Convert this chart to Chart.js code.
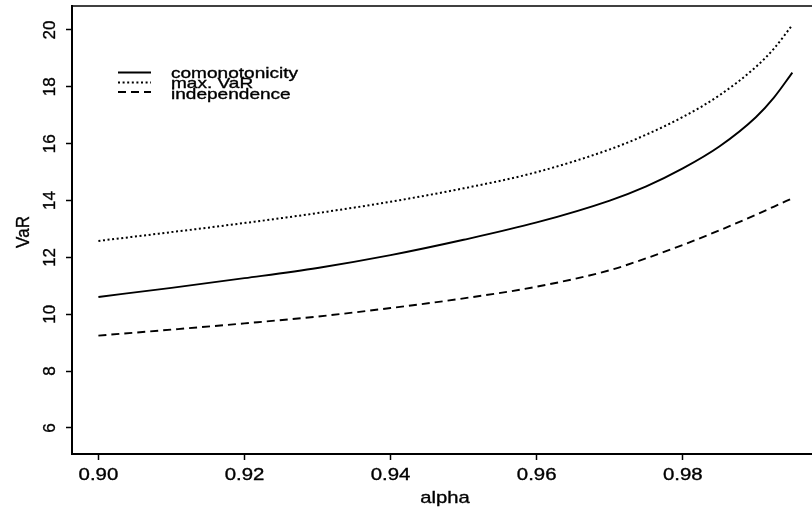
<!DOCTYPE html>
<html>
<head>
<meta charset="utf-8">
<script src="https://cdn.jsdelivr.net/npm/chart.js@4/dist/chart.umd.min.js"></script>
<style>
  html, body { margin: 0; padding: 0; background: #fff; overflow: hidden; }
  canvas { display: block; }
</style>
</head>
<body>
<canvas id="c" width="812" height="509"></canvas>
<script>
// Confidence levels and the three VaR curves
const alphas        = [0.900, 0.910, 0.920, 0.930, 0.940, 0.950, 0.960, 0.970, 0.975, 0.980, 0.985, 0.990, 0.9925, 0.995];
const comonotonic   = [10.61, 10.93, 11.27, 11.63, 12.08, 12.62, 13.23, 14.00, 14.50, 15.13, 15.90, 16.93, 17.63, 18.50];
const maxVaR        = [12.58, 12.89, 13.21, 13.56, 13.96, 14.43, 15.00, 15.80, 16.32, 16.94, 17.70, 18.70, 19.35, 20.18];
const independence  = [ 9.25,  9.46,  9.68,  9.92, 10.22, 10.56, 10.97, 11.55, 11.97, 12.44, 12.95, 13.50, 13.79, 14.08];

const seriesNames   = ['comonotonicity', 'max. VaR', 'independence'];

// Axis ticks
const xTickValues = [0.90, 0.92, 0.94, 0.96, 0.98];
const xTickLabels = ['0.90', '0.92', '0.94', '0.96', '0.98'];
const yTickValues = [6, 8, 10, 12, 14, 16, 18, 20];
const yTickLabels = ['6', '8', '10', '12', '14', '16', '18', '20'];

const xTitle = 'alpha';
const yTitle = 'VaR';

const FONT = '"Liberation Sans", Arial, Helvetica, sans-serif';

const toPoints = vals => alphas.map((a, i) => ({ x: a, y: vals[i] }));

// Horizontally stretched text helper
function drawText(ctx, txt, x, y, size, sx, rot, align) {
  ctx.save();
  ctx.translate(x, y);
  ctx.scale(sx, 1);
  if (rot) ctx.rotate(rot);
  ctx.font = size + 'px ' + FONT;
  ctx.fillStyle = '#000';
  ctx.strokeStyle = '#000';
  ctx.lineWidth = 0.35;
  ctx.textAlign = align || 'center';
  ctx.textBaseline = 'alphabetic';
  ctx.fillText(txt, 0, 0);
  ctx.strokeText(txt, 0, 0);
  ctx.restore();
}

// Frame top edge, tick labels, axis titles and the legend
const decorations = {
  id: 'decorations',
  afterDraw(chart) {
    const ctx = chart.ctx;
    const area = chart.chartArea;
    const xs = chart.scales.x, ys = chart.scales.y;

    ctx.save();
    ctx.strokeStyle = '#000';
    ctx.lineWidth = 1.6;
    ctx.beginPath();
    ctx.moveTo(area.left, area.top);
    ctx.lineTo(area.right, area.top);
    ctx.stroke();
    ctx.restore();

    xTickValues.forEach((v, i) => {
      drawText(ctx, xTickLabels[i], xs.getPixelForValue(v), 480, 17, 1.2, 0, 'center');
    });
    yTickValues.forEach((v, i) => {
      drawText(ctx, yTickLabels[i], 55, ys.getPixelForValue(v), 17, 1.0, -Math.PI / 2, 'center');
    });
    drawText(ctx, xTitle, (area.left + area.right) / 2 + 3, 503, 17, 1.19, 0, 'center');
    drawText(ctx, yTitle, 28.5, (area.top + area.bottom) / 2 + 2, 17, 1.07, -Math.PI / 2, 'center');

    // Legend
    const lx0 = 118, lx1 = 151, tx = 171;
    const lineY = [72.5, 82.5, 92];
    const textY = [77.5, 88, 98.5];
    chart.data.datasets.forEach((ds, i) => {
      ctx.save();
      ctx.strokeStyle = ds.borderColor;
      ctx.lineWidth = ds.borderWidth;
      ctx.setLineDash(ds.borderDash || []);
      ctx.beginPath();
      ctx.moveTo(lx0, lineY[i]);
      ctx.lineTo(lx1, lineY[i]);
      ctx.stroke();
      ctx.restore();
      drawText(ctx, ds.label, tx, textY[i], 15, 1.27, 0, 'left');
    });
  }
};

new Chart(document.getElementById('c'), {
  type: 'line',
  data: {
    datasets: [
      { label: seriesNames[0], data: toPoints(comonotonic),  borderColor: '#000', borderWidth: 1.9, borderDash: [] },
      { label: seriesNames[1], data: toPoints(maxVaR),       borderColor: '#000', borderWidth: 2, borderDash: [2, 2.6] },
      { label: seriesNames[2], data: toPoints(independence), borderColor: '#000', borderWidth: 1.9, borderDash: [8, 5] }
    ]
  },
  options: {
    responsive: false,
    animation: false,
    devicePixelRatio: 1,
    layout: { padding: { top: 6, left: 0, right: 0, bottom: 0 } },
    elements: {
      point: { radius: 0 },
      line: { cubicInterpolationMode: 'monotone', fill: false }
    },
    plugins: { legend: { display: false }, tooltip: { enabled: false } },
    scales: {
      x: {
        type: 'linear',
        min: 0.896386,
        max: 0.997687,
        afterBuildTicks: s => { s.ticks = xTickValues.map(v => ({ value: v })); },
        afterFit: s => { s.height = 55; },
        ticks: { display: false },
        grid: { drawOnChartArea: false, drawTicks: true, tickLength: 6, tickColor: '#000', tickWidth: 1.5 },
        border: { display: true, color: '#000', width: 2 }
      },
      y: {
        type: 'linear',
        min: 5.085,
        max: 20.844,
        afterBuildTicks: s => { s.ticks = yTickValues.map(v => ({ value: v })); },
        afterFit: s => { s.width = 72; },
        ticks: { display: false },
        grid: { drawOnChartArea: false, drawTicks: true, tickLength: 6, tickColor: '#000', tickWidth: 1.5 },
        border: { display: true, color: '#000', width: 2 }
      }
    }
  },
  plugins: [decorations]
});
</script>
</body>
</html>
